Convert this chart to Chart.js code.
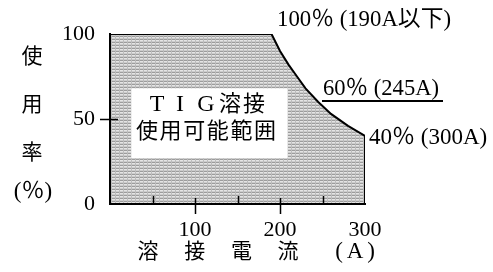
<!DOCTYPE html>
<html>
<head>
<meta charset="utf-8">
<script src="https://cdn.jsdelivr.net/npm/chart.js@4.4.0/dist/chart.umd.min.js"></script>
<style>
html, body { margin: 0; background: #fff; }
</style>
</head>
<body>
<canvas id="dutyChart" width="493" height="272"></canvas>
<script>
// duty cycle curve
const currents = [0, 190, 195, 200, 210, 220, 230, 245, 260, 280, 300, 300];
const dutyRates = [100, 100, 95, 90, 82, 75, 68, 60, 53, 46, 40, 0];
const xTickLabels = [100, 200, 300];
const xMinorTicks = [50, 150, 250];
const yTickLabels = [0, 50, 100];
const yMidTicks = [50];

const SERIF = '"Liberation Serif", "Noto Sans CJK JP", serif';

// grey screen-tone fill
function makePattern() {
    const c = document.createElement('canvas');
    c.width = 4;
    c.height = 3;
    const g = c.getContext('2d');
    g.fillStyle = '#e4e4e4';
    g.fillRect(0, 0, 4, 3);
    g.fillStyle = '#9c9c9c';
    g.fillRect(0, 0, 4, 1);
    g.fillStyle = '#cdcdcd';
    g.fillRect(0, 2, 4, 1);
    g.fillStyle = '#bcbcbc';
    g.fillRect(3, 0, 1, 3);
    return document.getElementById('dutyChart').getContext('2d').createPattern(c, 'repeat');
}

function drawText(ctx, str, x, y, size, align, maxWidth) {
    ctx.font = size + 'px ' + SERIF;
    ctx.textAlign = align || 'center';
    ctx.textBaseline = 'middle';
    ctx.fillStyle = '#000';
    if (maxWidth) {
        ctx.fillText(str, x, y, maxWidth);
    } else {
        ctx.fillText(str, x, y);
    }
}

const decorations = {
    id: 'decorations',
    afterDatasetsDraw(chart) {
        const ctx = chart.ctx;
        const xs = chart.scales.x;
        const ys = chart.scales.y;
        const area = chart.chartArea;
        ctx.save();

        // white label box
        const bx0 = xs.getPixelForValue(25), bx1 = xs.getPixelForValue(209);
        const by0 = ys.getPixelForValue(68), by1 = ys.getPixelForValue(27);
        ctx.fillStyle = '#fff';
        ctx.fillRect(bx0, by0, bx1 - bx0, by1 - by0);

        const line1 = ['T', 'I', 'G', '溶', '接'];
        const line1x = [157, 180, 206, 230, 254];
        line1.forEach((ch, i) => drawText(ctx, ch, line1x[i], 105, i < 3 ? 24 : 22));
        const line2 = ['使', '用', '可', '能', '範', '囲'];
        line2.forEach((ch, i) => drawText(ctx, ch, 147 + i * 23.6, 132, 22));

        // axis lines
        ctx.strokeStyle = '#000';
        ctx.lineWidth = 2;
        ctx.beginPath();
        ctx.moveTo(area.left, area.top - 1);
        ctx.lineTo(area.left, area.bottom);
        ctx.lineTo(xs.getPixelForValue(300) + 1, area.bottom);
        ctx.stroke();

        // tick marks
        ctx.lineWidth = 1.5;
        ctx.beginPath();
        xMinorTicks.forEach(v => {
            const px = Math.round(xs.getPixelForValue(v)) + 0.5;
            ctx.moveTo(px, area.bottom - 8);
            ctx.lineTo(px, area.bottom);
        });
        [100, 200].forEach(v => {
            const px = Math.round(xs.getPixelForValue(v)) + 0.5;
            ctx.moveTo(px, area.bottom - 6);
            ctx.lineTo(px, area.bottom + 10);
        });
        yMidTicks.forEach(v => {
            const py = Math.round(ys.getPixelForValue(v)) + 0.5;
            ctx.moveTo(area.left - 10, py);
            ctx.lineTo(area.left + 8, py);
        });
        ctx.stroke();

        // annotations
        drawText(ctx, '100％ (190A以下)', 277, 20, 23, 'left', 174);
        drawText(ctx, '60％ (245A)', 323, 89, 23, 'left', 116);
        drawText(ctx, '40％ (300A)', 369, 138, 23, 'left', 121);
        ctx.lineWidth = 2;
        ctx.beginPath();
        ctx.moveTo(322, 101);
        ctx.lineTo(443, 101);
        ctx.stroke();

        // axis titles
        ['使', '用', '率'].forEach((ch, i) => drawText(ctx, ch, 32, 57 + i * 48, 21));
        drawText(ctx, '(％)', 33, 192, 23);
        const xt = ['溶', '接', '電', '流'];
        xt.forEach((ch, i) => drawText(ctx, ch, 148 + i * 46.7, 252, 21));
        drawText(ctx, '(', 339, 252, 23);
        drawText(ctx, 'A', 355, 252, 23);
        drawText(ctx, ')', 371, 252, 23);

        ctx.restore();
    }
};

new Chart(document.getElementById('dutyChart'), {
    type: 'line',
    data: {
        datasets: [{
            data: currents.map((x, i) => ({ x: x, y: dutyRates[i] })),
            borderColor: '#000',
            borderWidth: 2,
            pointRadius: 0,
            tension: 0,
            fill: 'origin',
            backgroundColor: makePattern()
        }]
    },
    options: {
        responsive: false,
        animation: false,
        devicePixelRatio: 1,
        layout: {
            padding: { top: 34, right: 128, left: 0, bottom: 0 }
        },
        plugins: {
            legend: { display: false },
            tooltip: { enabled: false }
        },
        scales: {
            x: {
                type: 'linear',
                min: 0,
                max: 300,
                grid: { display: false, drawTicks: false },
                border: { display: false },
                ticks: {
                    stepSize: 50,
                    autoSkip: false,
                    maxRotation: 0,
                    padding: 13,
                    color: '#000',
                    font: { family: SERIF, size: 22 },
                    callback: v => xTickLabels.includes(v) ? String(v) : ''
                },
                afterFit: s => { s.height = 68; }
            },
            y: {
                min: 0,
                max: 100,
                grid: { display: false, drawTicks: false },
                border: { display: false },
                ticks: {
                    stepSize: 50,
                    padding: 15,
                    color: '#000',
                    font: { family: SERIF, size: 22 },
                    callback: v => yTickLabels.includes(v) ? String(v) : ''
                },
                afterFit: s => { s.width = 110; }
            }
        }
    },
    plugins: [decorations]
});
</script>
</body>
</html>
